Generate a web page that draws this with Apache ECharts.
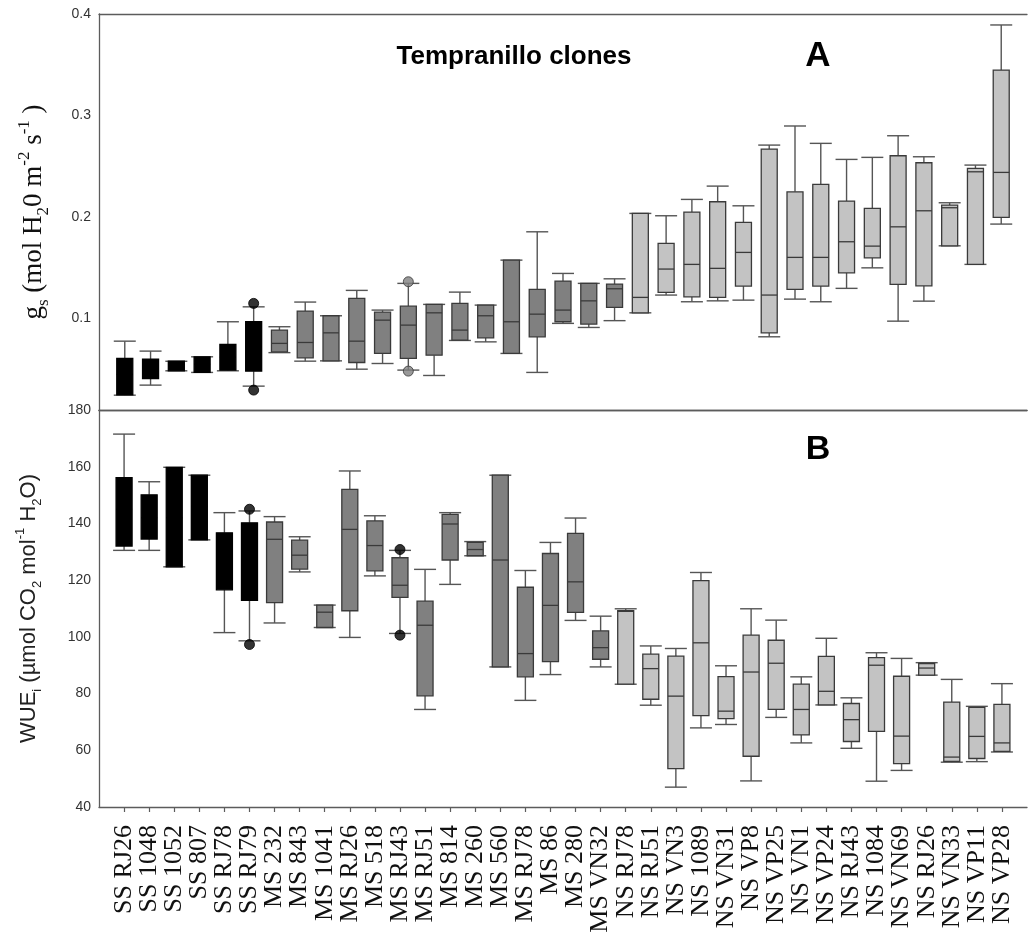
<!DOCTYPE html>
<html><head><meta charset="utf-8">
<script src="https://cdn.jsdelivr.net/npm/echarts@6/dist/echarts.min.js"></script>
<style>html,body{margin:0;padding:0;background:#fff}#c{width:1031px;height:940px}</style>
</head><body><div id="c"></div>
<script>
// ---- Panel B (WUEi) : 36 clones, labelled ----
const clones = ['SS RJ26','SS 1048','SS 1052','SS 807','SS RJ78','SS RJ79',
  'MS 232','MS 843','MS 1041','MS RJ26','MS 518','MS RJ43','MS RJ51','MS 814','MS 260','MS 560','MS RJ78','MS 86','MS 280','MS VN32',
  'NS RJ78','NS RJ51','NS VN3','NS 1089','NS VN31','NS VP8','NS VP25','NS VN1','NS VP24','NS RJ43','NS 1084','NS VN69','NS RJ26','NS VN33','NS VP11','NS VP28'];
const wueLow  = [130.5,130.5,124.7,134.2,101.5,98.6, 104.9,122.9,103.3,99.8,121.5,101.2,74.4,118.5,128.6,89.4,77.6,86.7,105.8,89.4, 83.3,75.9,47.0,67.9,69.1,49.2,71.6,62.6,76.0,60.7,49.1,52.9,86.5,55.8,56.0,59.4];
const wueQ1   = [132.0,134.5,124.7,134.2,116.6,112.9, 112.1,123.9,103.3,109.2,123.3,113.9,79.2,127.1,128.6,89.4,85.9,91.3,108.6,92.1, 83.3,78.0,53.5,72.2,71.2,57.9,74.4,65.4,76.0,63.1,66.7,55.3,86.5,56.1,57.1,59.6];
const wueMed  = [145.0,142.0,142.0,146.0,126.0,126.0, 134.4,128.8,108.7,137.9,132.2,118.2,104.1,139.8,130.8,127.1,94.1,111.1,119.4,96.2, 109.0,88.8,79.1,97.9,73.8,87.6,90.7,74.4,80.8,70.8,90.0,65.0,89.0,57.6,64.9,62.6];
const wueQ3   = [156.1,150.1,159.8,157.0,136.7,140.2, 140.5,134.1,111.2,152.0,140.9,127.9,112.6,143.2,133.3,157.0,117.5,129.4,136.5,102.1, 109.2,93.9,93.2,119.8,86.0,100.6,98.8,83.3,93.1,76.5,92.7,86.1,90.6,77.0,75.1,76.2];
const wueHigh = [171.5,154.7,159.8,157.0,143.8,144.4, 142.4,135.3,111.2,158.5,142.7,130.5,123.8,143.8,133.6,157.0,123.4,133.3,141.9,107.3, 109.9,96.8,95.9,122.7,89.8,109.9,105.9,85.9,99.5,78.5,94.4,92.4,90.9,85.0,75.5,83.5];
const wueOutliers = [[6,145.0],[6,97.3],[12,130.8],[12,100.6]]; // [clone position (1-based), value]
const wueTicks = {min:40, max:180, interval:20};

// ---- Panel A (gs) : 35 boxes drawn in the source panel ----
const gsGroup = ['SS','SS','SS','SS','SS','SS',
  'MS','MS','MS','MS','MS','MS','MS','MS','MS','MS','MS','MS','MS','MS',
  'NS','NS','NS','NS','NS','NS','NS','NS','NS','NS','NS','NS','NS','NS','NS'];
const gsLow  = [0.0246,0.0345,0.0486,0.047,0.0486,0.0335, 0.0665,0.0581,0.0584,0.0502,0.0558,0.0493,0.044,0.0785,0.0771,0.0657,0.047,0.0953,0.0913,0.098, 0.1057,0.1232,0.1166,0.1175,0.1182,0.0821,0.1192,0.1166,0.1298,0.15,0.0975,0.1172,0.1717,0.1534,0.1931];
const gsQ1   = [0.0250,0.041,0.0486,0.047,0.0493,0.0483, 0.0673,0.0614,0.0584,0.0568,0.0657,0.0608,0.064,0.0788,0.0811,0.0657,0.0821,0.0969,0.0946,0.111, 0.1057,0.1258,0.1215,0.1209,0.132,0.086,0.1288,0.132,0.1451,0.1599,0.1337,0.1323,0.1717,0.1534,0.1997];
const gsMed  = [0.045,0.050,0.054,0.055,0.062,0.072, 0.0756,0.0765,0.086,0.0778,0.0985,0.0936,0.1057,0.0887,0.1028,0.0969,0.1044,0.1084,0.1175,0.1294, 0.1209,0.1488,0.1534,0.1495,0.1652,0.1232,0.1603,0.1603,0.1757,0.1714,0.1904,0.2062,0.2092,0.2446,0.244];
const gsQ3   = [0.0608,0.060,0.058,0.0624,0.0746,0.0969, 0.0887,0.1074,0.1028,0.1199,0.1064,0.1123,0.114,0.115,0.1133,0.1576,0.1288,0.137,0.1347,0.134, 0.2036,0.1741,0.2049,0.2151,0.1948,0.267,0.2249,0.2322,0.2158,0.2086,0.2604,0.2535,0.2118,0.248,0.3448];
const gsHigh = [0.0778,0.068,0.058,0.0624,0.0969,0.1116, 0.092,0.1163,0.1028,0.1278,0.1084,0.1347,0.114,0.1261,0.1133,0.1576,0.1855,0.1445,0.1347,0.1392, 0.2036,0.2013,0.2174,0.2305,0.2111,0.2709,0.2897,0.2726,0.2568,0.2588,0.2801,0.2594,0.2141,0.2512,0.3892];
const gsOutliers = [[6,0.115],[6,0.0296],[12,0.1363],[12,0.0483]]; // [box position (1-based), value]
const gsTicks = [0.1,0.2,0.3,0.4];
const gsRange = {min:0.01, max:0.4};

// ---- styling ----
const FILL = {SS:'#000000', MS:'#808080', NS:'#c3c3c3'};
const EDGE = {SS:'#000000', MS:'#3a3a3a', NS:'#3a3a3a'};
const AXIS_COLOR = '#5c5c5c';
const WHISK = '#555555';

function boxRenderer(groupOf){
  return function(params, api){
    const x = api.value(0);
    const pl = api.coord([x, api.value(1)]);
    const p1 = api.coord([x, api.value(2)]);
    const pm = api.coord([x, api.value(3)]);
    const p3 = api.coord([x, api.value(4)]);
    const ph = api.coord([x, api.value(5)]);
    const cx = pl[0], bw = 16, cw = 22;
    const g = groupOf(params.dataIndex);
    const ws = {stroke: WHISK, lineWidth: 1.4};
    return {type:'group', children:[
      {type:'line', shape:{x1:cx,y1:ph[1],x2:cx,y2:p3[1]}, style:ws},
      {type:'line', shape:{x1:cx,y1:p1[1],x2:cx,y2:pl[1]}, style:ws},
      {type:'line', shape:{x1:cx-cw/2,y1:ph[1],x2:cx+cw/2,y2:ph[1]}, style:ws},
      {type:'line', shape:{x1:cx-cw/2,y1:pl[1],x2:cx+cw/2,y2:pl[1]}, style:ws},
      {type:'rect', shape:{x:cx-bw/2,y:p3[1],width:bw,height:Math.max(1,p1[1]-p3[1])}, style:{fill:FILL[g], stroke:EDGE[g], lineWidth:1.3}},
      {type:'line', shape:{x1:cx-bw/2,y1:pm[1],x2:cx+bw/2,y2:pm[1]}, style:{stroke:EDGE[g], lineWidth:1.3}}
    ]};
  };
}

const cloneGroup = clones.map(c => c.slice(0,2));
const wueData = clones.map((c,i) => [i+1, wueLow[i], wueQ1[i], wueMed[i], wueQ3[i], wueHigh[i]]);
const gsData = gsLow.map((v,i) => [i+1, v, gsQ1[i], gsMed[i], gsQ3[i], gsHigh[i]]);
const catAxisData = [''].concat(clones, ['']);

const axisLine = {show:true, lineStyle:{color:AXIS_COLOR, width:1.3}};
const tickLabel = {fontFamily:'Liberation Sans, Arial, sans-serif', fontSize:14, color:'#333'};

const chart = echarts.init(document.getElementById('c'), null, {renderer:'canvas'});
chart.setOption({
  animation:false,
  backgroundColor:'#fff',
  grid:[{left:99, right:4, top:14, height:396}, {left:99, right:4, top:410, height:397}],
  xAxis:[
    {gridIndex:0, type:'value', min:0, max:gsLow.length+1, position:'bottom', axisLine, axisTick:{show:false}, axisLabel:{show:false}, splitLine:{show:false}},
    {gridIndex:0, type:'value', min:0, max:gsLow.length+1, position:'top', axisLine, axisTick:{show:false}, axisLabel:{show:false}, splitLine:{show:false}},
    {gridIndex:1, type:'category', data:catAxisData, boundaryGap:false, position:'bottom', axisLine,
      axisTick:{show:true, length:5, interval:(i)=> i>0 && i<=clones.length, lineStyle:{color:AXIS_COLOR, width:1.2}},
      axisLabel:{interval:0, rotate:90, margin:18, fontFamily:'Liberation Serif, Times New Roman, serif', fontSize:26, color:'#111'},
      splitLine:{show:false}},
    {gridIndex:1, type:'category', data:catAxisData, boundaryGap:false, position:'top', axisLine, axisTick:{show:false}, axisLabel:{show:false}, splitLine:{show:false}}
  ],
  yAxis:[
    {gridIndex:0, type:'value', min:gsRange.min, max:gsRange.max, axisLine, axisTick:{show:false}, splitLine:{show:false},
      axisLabel:Object.assign({customValues:gsTicks, formatter:(v)=>v.toFixed(1), margin:8}, tickLabel),
      name:'{m|g}{s|s}{m| (mol H}{s|2}{m|0 m}{p|-2}{m| s}{p|-1}{m| )}', nameLocation:'middle', nameRotate:90, nameGap:47,
      nameTextStyle:{rich:{
        m:{fontFamily:'Liberation Serif, Times New Roman, serif', fontSize:27, color:'#111', lineHeight:36},
        s:{fontFamily:'Liberation Serif, Times New Roman, serif', fontSize:17, color:'#111', lineHeight:19, verticalAlign:'bottom'},
        p:{fontFamily:'Liberation Serif, Times New Roman, serif', fontSize:17, color:'#111', lineHeight:19, verticalAlign:'top'}
      }}},
    {gridIndex:1, type:'value', min:wueTicks.min, max:wueTicks.max, interval:wueTicks.interval, axisLine, axisTick:{show:false}, splitLine:{show:false},
      axisLabel:Object.assign({margin:8}, tickLabel),
      name:'{m|WUE}{s|i}{m| (µmol CO}{s|2}{m| mol}{p|-1}{m| H}{s|2}{m|O)}', nameLocation:'middle', nameRotate:90, nameGap:55,
      nameTextStyle:{rich:{
        m:{fontFamily:'Liberation Sans, Arial, sans-serif', fontSize:22, color:'#222', lineHeight:30},
        s:{fontFamily:'Liberation Sans, Arial, sans-serif', fontSize:13, color:'#222', lineHeight:16, verticalAlign:'bottom'},
        p:{fontFamily:'Liberation Sans, Arial, sans-serif', fontSize:13, color:'#222', lineHeight:16, verticalAlign:'top'}
      }}}
  ],
  series:[
    {type:'custom', xAxisIndex:0, yAxisIndex:0, renderItem:boxRenderer(i=>gsGroup[i]), data:gsData, encode:{x:0, y:[1,2,3,4,5]}, z:2},
    {type:'custom', xAxisIndex:2, yAxisIndex:1, renderItem:boxRenderer(i=>cloneGroup[i]), data:wueData, encode:{x:0, y:[1,2,3,4,5]}, z:2},
    {type:'scatter', xAxisIndex:0, yAxisIndex:0, symbol:'circle', symbolSize:10, z:3,
      data:gsOutliers.map(o=>({value:o, itemStyle:{color:FILL[gsGroup[o[0]-1]], borderColor:EDGE[gsGroup[o[0]-1]], borderWidth:1}}))},
    {type:'scatter', xAxisIndex:2, yAxisIndex:1, symbol:'circle', symbolSize:10, z:3,
      data:wueOutliers.map(o=>({value:o, itemStyle:{color:'#000', borderColor:'#000', borderWidth:1}}))}
  ],
  graphic:[
    {type:'text', x:514, y:57, style:{text:'Tempranillo clones', fontFamily:'Liberation Sans, Arial, sans-serif', fontWeight:'bold', fontSize:26, fill:'#000', align:'center', verticalAlign:'middle'}},
    {type:'text', x:818, y:56, style:{text:'A', fontFamily:'Liberation Sans, Arial, sans-serif', fontWeight:'bold', fontSize:35, fill:'#000', align:'center', verticalAlign:'middle'}},
    {type:'text', x:818, y:450, style:{text:'B', fontFamily:'Liberation Sans, Arial, sans-serif', fontWeight:'bold', fontSize:34, fill:'#000', align:'center', verticalAlign:'middle'}}
  ]
});
</script></body></html>
